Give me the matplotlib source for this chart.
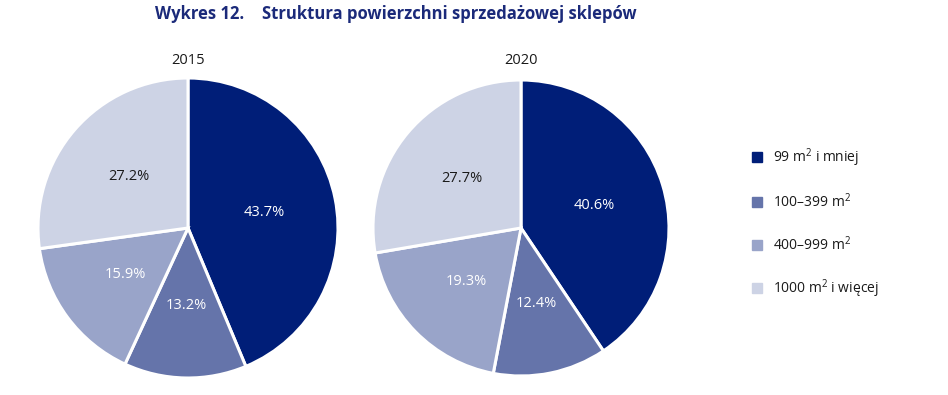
import matplotlib.pyplot as plt
from matplotlib.lines import Line2D

plt.rcParams['font.family'] = ['Open Sans', 'DejaVu Sans']
plt.rcParams['mathtext.fontset'] = 'custom'
plt.rcParams['mathtext.rm'] = 'Open Sans'
plt.rcParams['mathtext.it'] = 'Open Sans'

categories = ['99 m$^2$ i mniej', '100–399 m$^2$', '400–999 m$^2$', '1000 m$^2$ i więcej']
years = ['2015', '2020']
shares_2015 = [43.7, 13.2, 15.9, 27.2]
shares_2020 = [40.6, 12.4, 19.3, 27.7]

colors = ['#001E78', '#6574AA', '#99A4C9', '#CDD3E5']
label_colors = ['white', 'white', 'white', '#1a1a1a']

fig = plt.figure(figsize=(9.48, 3.95), dpi=100)

fig.text(155 / 948, 1 - 14 / 395, 'Wykres 12.', fontsize=12, fontweight='bold',
         color='#1B2A7A', va='center', ha='left')
fig.text(262 / 948, 1 - 14 / 395, 'Struktura powierzchni sprzedażowej sklepów', fontsize=12,
         fontweight='bold', color='#1B2A7A', va='center', ha='left')

# axes boxes in pixel coords: (center x, center y from top, radius)
pie_pos = [(188, 228, 150), (521, 228, 148)]

for (cx, cy, r), year, vals in zip(pie_pos, years, [shares_2015, shares_2020]):
    left = (cx - r) / 948
    bottom = (395 - cy - r) / 395
    ax = fig.add_axes([left, bottom, 2 * r / 948, 2 * r / 395])
    wedges, texts, autotexts = ax.pie(
        vals, colors=colors, startangle=90, counterclock=False,
        autopct=lambda p: f'{p:.1f}%', pctdistance=0.52,
        wedgeprops=dict(edgecolor='white', linewidth=2.2),
        textprops=dict(fontsize=10.5))
    for t, c in zip(autotexts, label_colors):
        t.set_color(c)
    ax.set_xlim(-1.0, 1.0)
    ax.set_ylim(-1.0, 1.0)
    fig.text(cx / 948, 1 - 60 / 395, year, ha='center', va='center', fontsize=10.5,
             color='#1a1a1a')

handles = [Line2D([0], [0], marker='s', linestyle='none', markersize=7,
                  markerfacecolor=c, markeredgecolor=c) for c in colors]
fig.legend(handles, categories, loc='upper left', bbox_to_anchor=(738 / 948, 1 - 134 / 395),
           frameon=False, fontsize=10, labelspacing=1.7, handlelength=1.0,
           handletextpad=0.6, labelcolor='#1a1a1a')

fig.savefig('out.png', dpi=100)
